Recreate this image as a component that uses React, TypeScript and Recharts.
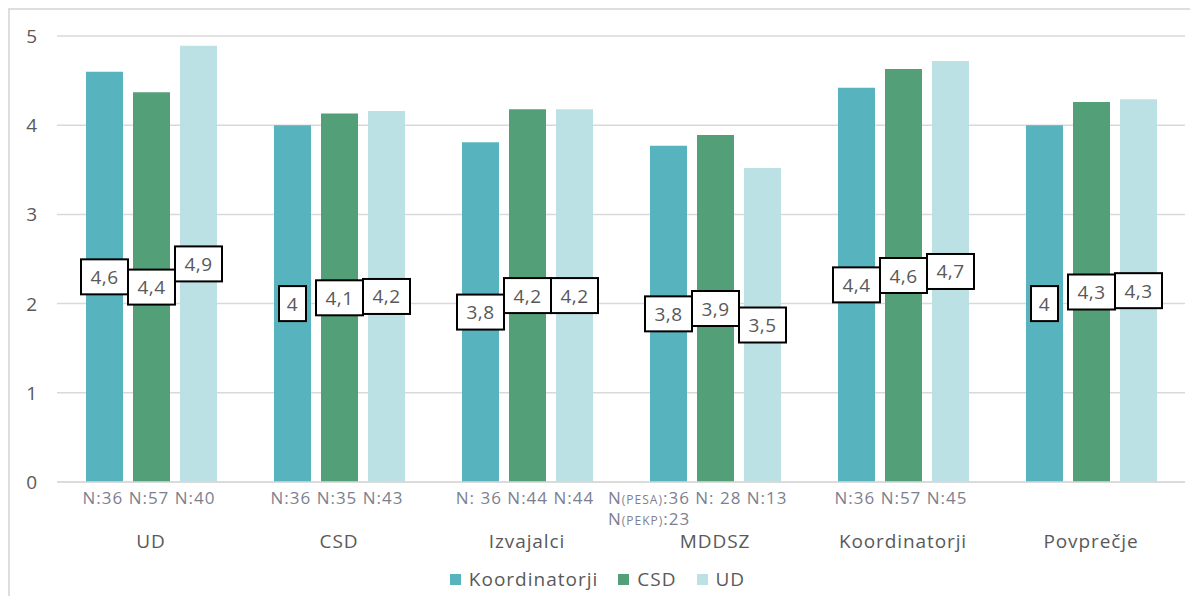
import { Bar, BarChart, CartesianGrid, LabelList, Legend, XAxis, YAxis } from "recharts";

const categories = ["UD", "CSD", "Izvajalci", "MDDSZ", "Koordinatorji", "Povprečje"];
const koordinatorji = [4.6, 4.0, 3.81, 3.77, 4.42, 4.0];
const csd = [4.37, 4.13, 4.18, 3.89, 4.63, 4.26];
const ud = [4.89, 4.16, 4.18, 3.52, 4.72, 4.29];
const nLabels = [
  ["N:36 N:57 N:40"],
  ["N:36 N:35 N:43"],
  ["N: 36 N:44 N:44"],
  ["N(PESA):36 N: 28 N:13", "N(PEKP):23"],
  ["N:36 N:57 N:45"],
  [],
];
const yTicks = [0, 1, 2, 3, 4, 5];

const series = [
  { key: "koordinatorji", name: "Koordinatorji", color: "#57b4bf" },
  { key: "csd", name: "CSD", color: "#53a078" },
  { key: "ud", name: "UD", color: "#bce1e4" },
];

const data = categories.map((name, i) => ({
  name,
  koordinatorji: koordinatorji[i],
  csd: csd[i],
  ud: ud[i],
}));

const FONT = "'Open Sans', sans-serif";
const TEXT = "#595959";

const fmt = (v: number) => String(Math.round(v * 10) / 10).replace(".", ",");

// split "N(PESA):36" so the bracketed part can be drawn small
const NLine = ({ line }: { line: string }) => (
  <>
    {line.split(/(\([A-Z]+\))/).map((part, i) =>
      /^\(/.test(part) ? (
        <tspan key={i} fontSize={12} letterSpacing={1}>
          {part}
        </tspan>
      ) : (
        <tspan key={i}>{part}</tspan>
      )
    )}
  </>
);

const CategoryTick = (props: any) => {
  const { x, y, index, payload } = props;
  const lines = nLabels[index] || [];
  const multi = lines.length > 1;
  return (
    <g fontFamily={FONT}>
      {lines.map((line, i) => (
        <text
          key={i}
          x={multi ? x - 107 : x - 2}
          y={y + 22 + i * 21}
          textAnchor={multi ? "start" : "middle"}
          fontSize={17}
          letterSpacing={1}
          fill="#7d7f90"
        >
          <NLine line={line} />
        </text>
      ))}
      <text x={x} y={y + 66} textAnchor="middle" fontSize={19} letterSpacing={0.9} fill={TEXT}>
        {payload.value}
      </text>
    </g>
  );
};

const ValueTick = (props: any) => {
  const { x, y, payload } = props;
  return (
    <text x={x - 20} y={y + 7} textAnchor="end" fontSize={19} fill={TEXT} fontFamily={FONT}>
      {payload.value}
    </text>
  );
};

const BoxLabel = (props: any) => {
  const { x, y, width, height, value } = props;
  const txt = fmt(Number(value));
  const w = 17 + txt.length * 10;
  const h = 35;
  const cx = Number(x) + Number(width) / 2;
  const cy = Number(y) + Number(height) / 2;
  return (
    <g>
      <rect x={cx - w / 2} y={cy - h / 2} width={w} height={h} fill="#fff" stroke="#000" strokeWidth={2} />
      <text
        x={cx}
        y={cy + 7}
        textAnchor="middle"
        fontSize={19}
        letterSpacing={0.5}
        fill={TEXT}
        fontFamily={FONT}
      >
        {txt}
      </text>
    </g>
  );
};

const LegendContent = () => (
  <div
    style={{
      display: "flex",
      justifyContent: "center",
      gap: 20,
      fontFamily: FONT,
      fontSize: 19,
      letterSpacing: 1,
      color: TEXT,
      lineHeight: "26px",
    }}
  >
    {series.map((s) => (
      <span key={s.key} style={{ display: "flex", alignItems: "center" }}>
        <span style={{ width: 11, height: 11, background: s.color, marginRight: 8, display: "inline-block" }} />
        {s.name}
      </span>
    ))}
  </div>
);

export default function App() {
  return (
    <div style={{ borderTop: "2px solid #dedede", borderLeft: "2px solid #dedede", width: 1188, height: 586 }}>
      <BarChart
        width={1188}
        height={586}
        data={data}
        margin={{ top: 26, right: 13, left: 0, bottom: 4 }}
        barCategoryGap={29}
        barGap={10}
      >
        <CartesianGrid vertical={false} stroke="#d9d9d9" strokeWidth={1.5} />
        <XAxis
          dataKey="name"
          axisLine={{ stroke: "#d9d9d9", strokeWidth: 1.5 }}
          tickLine={false}
          tickSize={0}
          tickMargin={0}
          height={84}
          interval={0}
          tick={<CategoryTick />}
        />
        <YAxis
          domain={[0, 5]}
          ticks={yTicks}
          width={47}
          axisLine={false}
          tickLine={false}
          tickSize={0}
          tickMargin={0}
          tick={<ValueTick />}
        />
        <Legend verticalAlign="bottom" height={26} content={<LegendContent />} />
        {series.map((s) => (
          <Bar key={s.key} dataKey={s.key} name={s.name} fill={s.color} isAnimationActive={false}>
            <LabelList dataKey={s.key} content={<BoxLabel />} />
          </Bar>
        ))}
      </BarChart>
    </div>
  );
}
